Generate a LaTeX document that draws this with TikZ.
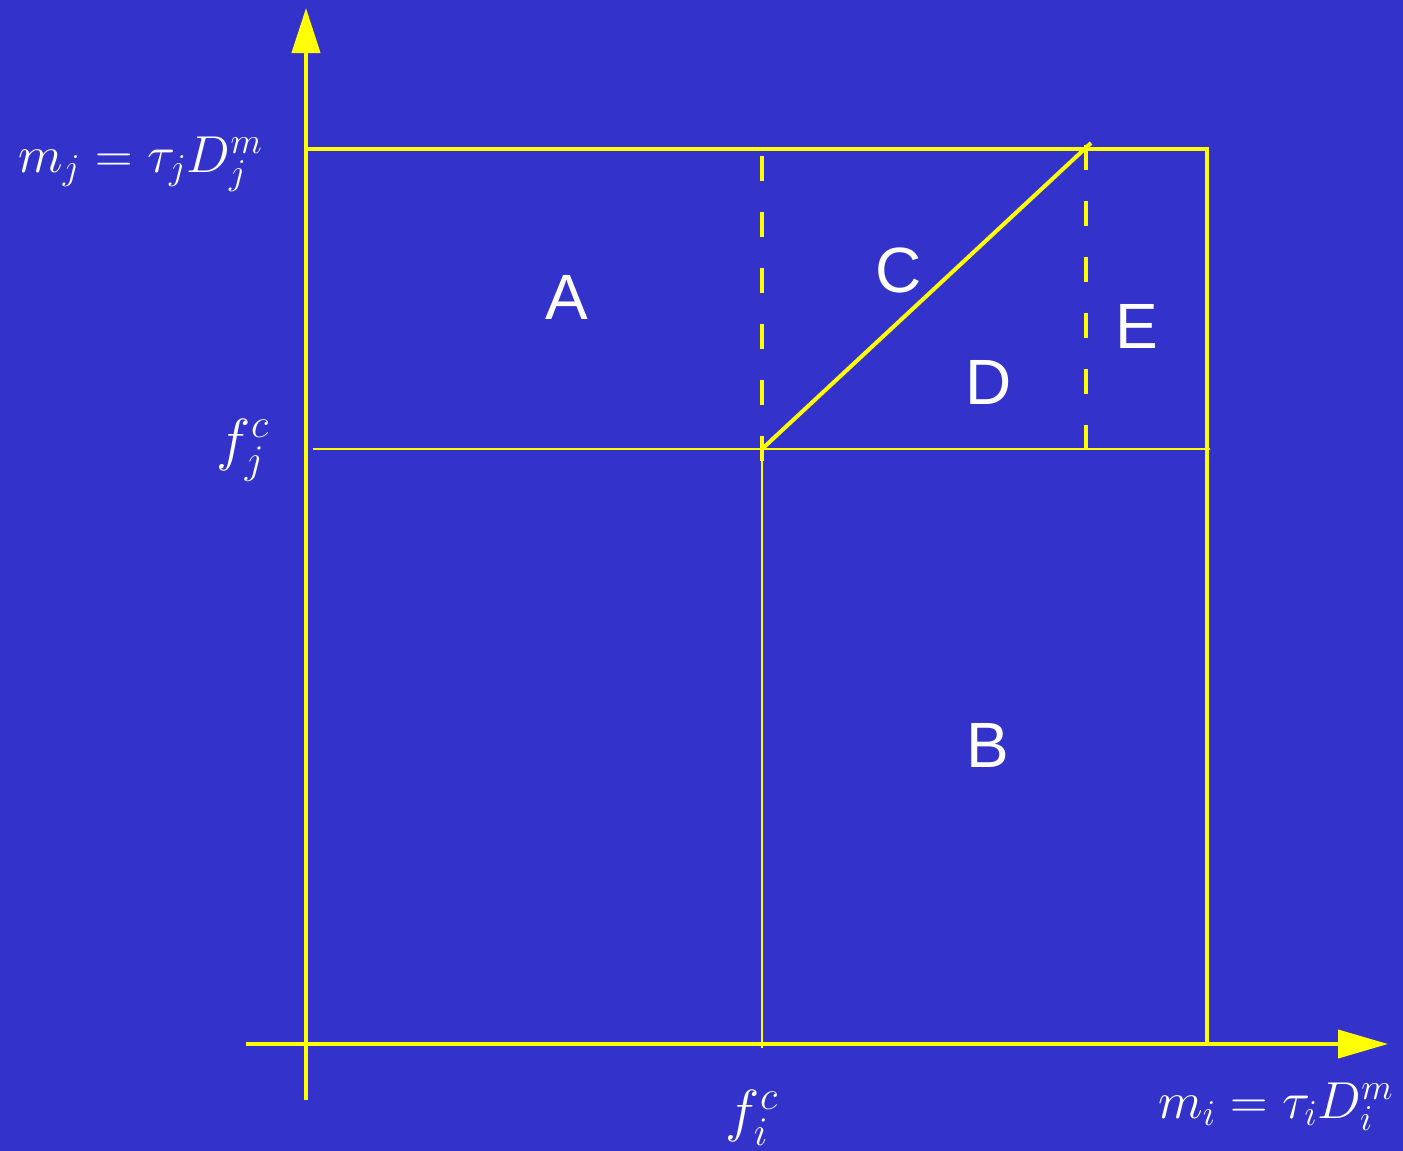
\documentclass[tikz,border=0pt]{standalone}
\usepackage{fix-cm}
\usepackage{fontspec}
\newfontfamily\lsans{Liberation Sans}
\usetikzlibrary{arrows.meta}
\definecolor{bgblue}{RGB}{51,51,204}
\definecolor{ylw}{RGB}{255,255,0}
\tikzset{
  thickln/.style={draw=ylw, line width=2pt},
  thinln/.style={draw=ylw, line width=1pt},
  dashln/.style={draw=ylw, line width=1.7pt, dash pattern=on 12.5pt off 15.5pt},
  region/.style={text=white, font=\lsans\fontsize{32}{36}\selectfont, inner sep=0pt},
  mlabel/.style={text=white, font=\fontsize{29}{34}\selectfont, inner sep=0pt},
  eqlabel/.style={text=white, font=\fontsize{26}{30}\selectfont, inner sep=0pt},
}
\begin{document}
\begin{tikzpicture}[x=0.5pt,y=-0.5pt]
\fill[bgblue] (0,0) rectangle (1403,1151);
\useasboundingbox (0,0) rectangle (1403,1151);
% coordinates
\coordinate (xs) at (246,1044);
\coordinate (xe) at (1388,1044);
\coordinate (ys) at (306,1100);
\coordinate (ye) at (306,8);
\coordinate (tl) at (306,149);
\coordinate (tr) at (1207,149);
\coordinate (br) at (1207,1044);
\coordinate (hl) at (313,449);
\coordinate (hr) at (1210,449);
\coordinate (k) at (762,449);
\coordinate (kb) at (762,1048);
\coordinate (d1t) at (762,156);
\coordinate (d1b) at (762,462);
\coordinate (d2t) at (1086,145);
\coordinate (d2b) at (1086,453);
\coordinate (diagt) at (1091,143);
% axes
\draw[thickln, -{Triangle[length=25pt,width=14pt]}] (xs) -- (xe);
\draw[thickln, -{Triangle[length=22.5pt,width=14pt]}] (ys) -- (ye);
% box
\draw[thickln, line join=miter] (tl) -- (tr) -- (br);
% thin lines
\draw[thinln] (hl) -- (hr);
\draw[thinln] (k) -- (kb);
% dashed
\draw[dashln] (d1t) -- (d1b);
\draw[dashln] (d2t) -- (d2b);
% diagonal
\draw[thickln] (k) -- (diagt);
% region labels
\node[region] (A) at (567,297) {A};
\node[region] (C) at (899,270) {C};
\node[region] (D) at (989,382) {D};
\node[region] (E) at (1137,326) {E};
\node[region] (B) at (988,745) {B};
% math labels
\node[eqlabel, anchor=base west] (mj) at (18,172) {$m_j = \tau_j D_j^m$};
\node[mlabel] (fj) at (243,450) {$f_j^c$};
\node[mlabel] (fi) at (752,1118) {$f_i^c$};
\node[eqlabel, anchor=base east] (mi) at (1394,1118) {$m_i = \tau_i D_i^m$};
\end{tikzpicture}
\end{document}
